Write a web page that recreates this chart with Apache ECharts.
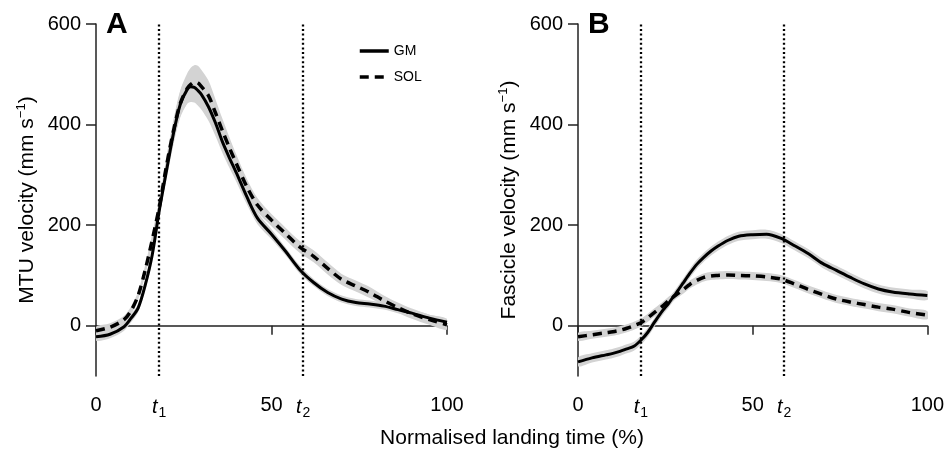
<!DOCTYPE html>
<html>
<head>
<meta charset="utf-8">
<script src="https://cdn.jsdelivr.net/npm/echarts@6/dist/echarts.min.js"></script>
<style>
html,body{margin:0;padding:0;background:#fff;}
#chart{width:947px;height:451px;}
</style>
</head>
<body>
<div id="chart"></div>
<script>
// Normalised landing time (%) sample positions
const xPct = [0,4,8,10,12,14,16,18,20,22,24,26,27,28,29,30,32,34,36,38,40,43,46,50,54,58,62,66,70,74,78,82,86,90,95,100];

// Panel A: MTU velocity (mm s-1)
const gmA  = [-22,-17,-2,15,35,80,140,228,305,380,440,470,475,474,468,460,436,404,366,334,304,256,214,182,148,112,86,66,53,46,43,39,32,25,15,7];
const solA = [-10,-3,12,30,60,110,170,235,315,385,442,472,480,484,483,476,458,424,388,354,322,276,240,210,183,157,138,114,92,79,66,50,36,24,12,2];
const gmASd  = [8,8,8,8,8,10,12,14,18,22,26,28,30,30,30,30,28,26,22,20,18,15,12,10,8,8,7,7,7,7,7,7,7,7,7,7];
const solASd = [8,8,8,8,8,10,12,14,18,22,26,30,33,34,34,33,30,27,24,21,18,16,14,12,12,12,12,12,11,11,11,10,10,10,10,10];

// Panel B: Fascicle velocity (mm s-1)
const gmB  = [-72,-64,-58,-55,-51,-46,-41,-29,-13,8,28,45,55,64,74,84,104,122,136,148,158,170,178,181,182,174,159,143,124,110,96,83,73,67,63,60];
const solB = [-22,-18,-14,-12,-9,-5,0,6,16,27,38,50,55,61,66,71,82,90,96,99,100,101,100,99,97,93,83,72,62,53,47,42,37,33,26,21];
const gmBSd  = [9,9,9,9,9,9,9,9,9,9,9,9,9,9,9,9,9,9,9,9,9,9,9,9,9,9,9,9,9,9,9,9,9,9,9,9];
const solBSd = [8,8,8,8,8,8,8,8,8,8,8,8,8,8,8,8,8,8,8,8,8,8,8,8,8,8,8,8,8,8,8,8,8,8,8,8];

// Axis ticks and event markers
const xTicks = [0, 50, 100];
const yTicks = [0, 200, 400, 600];
const tMarks = [18, 59];
const tNames = {18: '{it|t}{sub|1}', 59: '{it|t}{sub|2}'};
const seriesNames = ['GM', 'SOL'];

const FONT = 'Liberation Sans, Arial, sans-serif';
const BAND = '#d3d3d3';
const SMOOTH = 0.3;

function pairs(arr) { return xPct.map((x, i) => [x, arr[i]]); }

// shaded variability band drawn as one polygon through the axis scales
function bandSeries(idx, key, mean, sd) {
  const triples = xPct.map((x, i) => [x, mean[i] - sd[i], mean[i] + sd[i]]);
  return {
    type: 'custom', name: key, xAxisIndex: idx, yAxisIndex: idx, silent: true, z: 1,
    data: triples, encode: {x: 0, y: [1, 2]}, clip: true,
    renderItem: function (params, api) {
      if (params.dataIndex !== 0) return null;
      const upper = triples.map(t => api.coord([t[0], t[2]]));
      const lower = triples.map(t => api.coord([t[0], t[1]])).reverse();
      return {
        type: 'polygon',
        shape: {points: upper.concat(lower), smooth: SMOOTH},
        style: {fill: BAND, stroke: null}
      };
    }
  };
}

function lineSeries(idx, name, mean, dashed, withMarks) {
  const s = {
    type: 'line', name: name, xAxisIndex: idx, yAxisIndex: idx,
    data: pairs(mean), symbol: 'none', smooth: SMOOTH, z: 3,
    itemStyle: {color: '#000'},
    lineStyle: dashed ? {color: '#000', width: 3.5, type: [9, 6]} : {color: '#000', width: 3}
  };
  if (withMarks) {
    s.markLine = {
      symbol: ['none', 'none'], silent: true, label: {show: false},
      lineStyle: {color: '#000', width: 2.3, type: [2, 2.6]},
      data: tMarks.map(v => ({xAxis: v}))
    };
  }
  return s;
}

function xAxisFor(idx) {
  return {
    type: 'value', gridIndex: idx, min: 0, max: 100,
    splitLine: {show: false},
    axisLine: {lineStyle: {color: '#222', width: 1.5}},
    axisTick: {show: true, length: 9, customValues: xTicks, lineStyle: {color: '#222', width: 1.5}},
    axisLabel: {
      customValues: xTicks.concat(tMarks), margin: 19, color: '#000', fontSize: 20, fontFamily: FONT,
      formatter: v => tNames[v] || String(v),
      rich: {
        it: {fontStyle: 'italic', fontSize: 20, fontFamily: FONT, color: '#000'},
        sub: {fontSize: 14, fontFamily: FONT, color: '#000', padding: [11, 0, 0, 1]}
      }
    }
  };
}

function yAxisFor(idx, title) {
  return {
    type: 'value', gridIndex: idx, min: -100, max: 600,
    splitLine: {show: false},
    axisLine: {show: true, lineStyle: {color: '#222', width: 1.5}},
    axisTick: {show: true, length: 10, customValues: yTicks, lineStyle: {color: '#222', width: 1.5}},
    axisLabel: {customValues: yTicks, margin: 15, color: '#000', fontSize: 20, fontFamily: FONT},
    name: title + ' (mm s{sup|\u22121})', nameLocation: 'middle', nameGap: 57,
    nameTextStyle: {
      fontSize: 21, fontFamily: FONT, color: '#000', lineHeight: 24,
      rich: {sup: {fontSize: 13, fontFamily: FONT, color: '#000', verticalAlign: 'top', lineHeight: 14}}
    }
  };
}

const chart = echarts.init(document.getElementById('chart'), null, {renderer: 'canvas'});
const option = {
  animation: false,
  backgroundColor: '#fff',
  grid: [
    {left: 96, top: 24, width: 351, height: 352},
    {left: 578, top: 24, width: 352, height: 352}
  ],
  xAxis: [xAxisFor(0), xAxisFor(1)],
  yAxis: [yAxisFor(0, 'MTU velocity'), yAxisFor(1, 'Fascicle velocity')],
  legend: {
    data: seriesNames, orient: 'vertical', left: 353, top: 39,
    itemWidth: 29, itemHeight: 14, itemGap: 12,
    itemStyle: {opacity: 0},
    lineStyle: {width: 3.5},
    textStyle: {fontSize: 14, fontFamily: FONT, color: '#000'},
    selectedMode: false
  },
  graphic: [
    {type: 'text', left: 106, top: 10, style: {text: 'A', font: 'bold 30px ' + FONT, fill: '#000'}},
    {type: 'text', left: 588, top: 10, style: {text: 'B', font: 'bold 30px ' + FONT, fill: '#000'}},
    {type: 'text', x: 512, y: 438, style: {text: 'Normalised landing time (%)', font: '21px ' + FONT, fill: '#000', align: 'center', verticalAlign: 'middle'}}
  ],
  series: [
    bandSeries(0, 'gmA', gmA, gmASd),
    bandSeries(0, 'solA', solA, solASd),
    bandSeries(1, 'gmB', gmB, gmBSd),
    bandSeries(1, 'solB', solB, solBSd),
    lineSeries(0, 'GM', gmA, false, true),
    lineSeries(0, 'SOL', solA, true, false),
    lineSeries(1, 'GM', gmB, false, true),
    lineSeries(1, 'SOL', solB, true, false)
  ]
};
chart.setOption(option);
</script>
</body>
</html>
